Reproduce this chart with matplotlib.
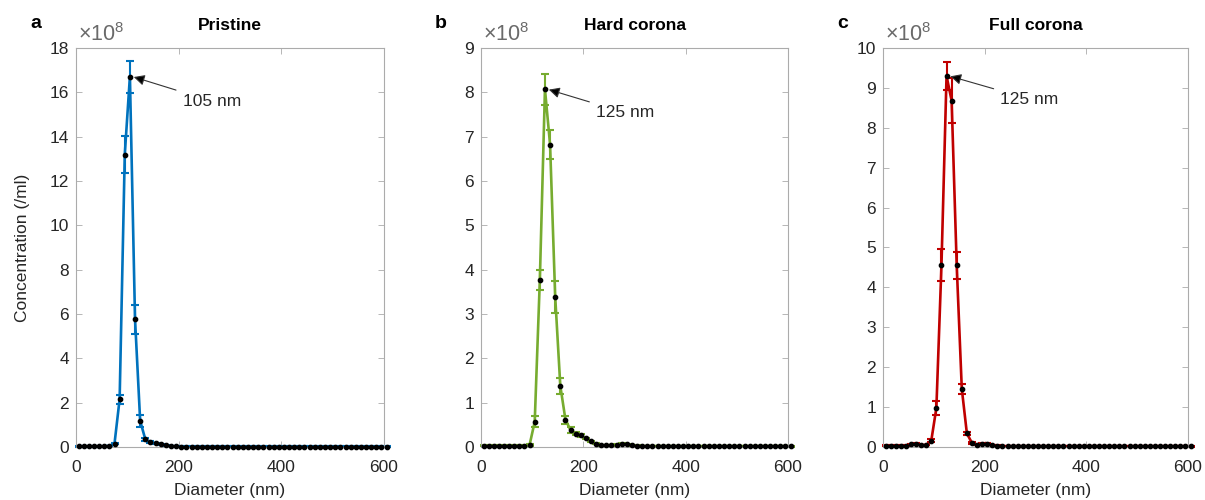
import numpy as np
import matplotlib
matplotlib.use("Agg")
import matplotlib.pyplot as plt

plt.rcParams['font.family'] = ['Liberation Sans', 'DejaVu Sans']
plt.rcParams['mathtext.fontset'] = 'custom'
plt.rcParams['mathtext.rm'] = 'Liberation Sans'

# Diameter bins (nm)
diameter = list(range(5, 606, 10))  # 5, 15, ..., 605

# Concentration in units of 1e8 particles/ml
pristine = [0.03, 0.03, 0.03, 0.03, 0.03, 0.03, 0.05, 0.15, 2.16, 13.19,
            16.71, 5.76, 1.18, 0.35, 0.22, 0.17, 0.12, 0.07, 0.04, 0.03] + [0.02] * 41
pristine_err = [0.01] * 7 + [0.03, 0.2, 0.85, 0.72, 0.66, 0.26, 0.06, 0.03, 0.02] + [0.01] * 45

hard = [0.03] * 9 + [0.05, 0.57, 3.77, 8.07, 6.82, 3.39, 1.38, 0.62, 0.38, 0.30, 0.26,
        0.20, 0.13, 0.07, 0.04, 0.04, 0.04, 0.05, 0.07, 0.06, 0.04, 0.03] + [0.02] * 30
hard_err = [0.01] * 9 + [0.02, 0.12, 0.23, 0.35, 0.33, 0.36, 0.18, 0.09, 0.06, 0.04, 0.03] + [0.01] * 41

full = [0.03, 0.03, 0.03, 0.03, 0.03, 0.07, 0.08, 0.05, 0.05, 0.16, 0.98, 4.55, 9.30,
        8.68, 4.55, 1.46, 0.34, 0.10, 0.06, 0.08, 0.08, 0.05, 0.03] + [0.02] * 38
full_err = [0.01] * 9 + [0.04, 0.17, 0.40, 0.35, 0.57, 0.34, 0.13, 0.04, 0.02] + [0.01] * 43

titles = ["Pristine", "Hard corona", "Full corona"]
letters = ["a", "b", "c"]
colors = ["#0072BD", "#77AC30", "#C00000"]
ymaxes = [18, 9, 10]
ysteps = [2, 1, 1]
peak_labels = ["105 nm", "125 nm", "125 nm"]
peak_x = [105, 125, 125]
text_pos = [(208, 15.6), (225, 7.54), (231, 8.72)]

series = [(pristine, pristine_err), (hard, hard_err), (full, full_err)]

fig = plt.figure(figsize=(12.05, 5.0), dpi=100)
lefts = [76 / 1205, 481 / 1205, 883 / 1205]
widths = [308 / 1205, 307 / 1205, 305 / 1205]
bottom = 53 / 500
height = 399 / 500

tick_color = '#262626'
spine_color = '#ababab'
FS = 12.5

for i in range(3):
    ax = fig.add_axes([lefts[i], bottom, widths[i], height])
    y, e = series[i]
    ax.errorbar(diameter, y, yerr=e, color=colors[i], lw=1.9,
                elinewidth=1.5, capsize=3, capthick=1.5,
                zorder=2, clip_on=False)
    ax.plot(diameter, y, 'o', color='black', ms=3.1, zorder=5, clip_on=False)
    ax.set_xlim(0, 600)
    ax.set_ylim(0, ymaxes[i])
    ax.set_xticks([0, 200, 400, 600])
    ax.set_yticks(np.arange(0, ymaxes[i] + 0.01, ysteps[i]))
    ax.tick_params(direction='in', length=4, width=0.6, colors=spine_color,
                   labelcolor=tick_color, labelsize=FS, top=True, right=True)
    ax.tick_params(axis='x', pad=9)
    ax.tick_params(axis='y', pad=5)
    for s in ax.spines.values():
        s.set_color(spine_color)
        s.set_linewidth(0.8)
    ax.set_xlabel("Diameter (nm)", fontsize=FS, color=tick_color, labelpad=6)
    if i == 0:
        ax.set_ylabel("Concentration (/ml)", fontsize=FS, color=tick_color, labelpad=14)
    ax.set_title(titles[i], fontsize=FS, fontweight='bold', color='black', pad=13)
    ax.text(0.005, 1.006, r'$\times10^{8}$', transform=ax.transAxes, fontsize=15.5,
            color='#6a6a6a', ha='left', va='bottom')
    fig.text(lefts[i] - 40 / 1205, 1 - 24 / 500, letters[i], fontsize=14,
             fontweight='bold', ha='center', va='center')
    py = y[diameter.index(peak_x[i])]
    ax.annotate(peak_labels[i], xy=(peak_x[i] + 5, py), xytext=text_pos[i],
                fontsize=FS, color=tick_color, va='center', ha='left',
                arrowprops=dict(arrowstyle='-|>', color='#666666', lw=0.8,
                                mutation_scale=16, shrinkA=3, shrinkB=1,
                                fc='black', ec='#333333'))

fig.savefig("out.png", dpi=100)
